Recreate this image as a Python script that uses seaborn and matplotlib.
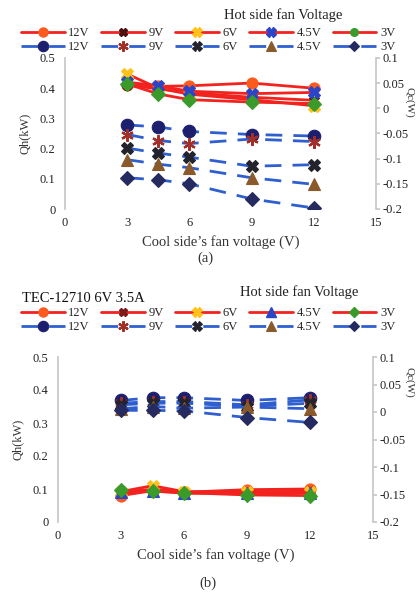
import numpy as np
import pandas as pd
import matplotlib
matplotlib.use("Agg")
import matplotlib.pyplot as plt
from matplotlib.lines import Line2D
import seaborn as sns

sns.set_theme(style="white")
plt.rcParams["font.family"] = ["Liberation Serif", "DejaVu Serif"]

# Cool-side fan voltage (x axis)
cool_v = [3, 4.5, 6, 9, 12]
hot_labels = ["12V", "9V", "6V", "4.5V", "3V"]

# Panel (a): heat rejected on hot side, Qh (kW)
qh_a_12 = [0.412, 0.406, 0.408, 0.417, 0.400]
qh_a_9 = [0.410, 0.398, 0.385, 0.370, 0.360]
qh_a_6 = [0.447, 0.400, 0.380, 0.362, 0.342]
qh_a_45 = [0.420, 0.408, 0.390, 0.382, 0.386]
qh_a_3 = [0.414, 0.381, 0.362, 0.354, 0.349]
# Panel (a): cooling capacity, Qc (W)
qc_a_12 = [-0.033, -0.037, -0.046, -0.052, -0.055]
qc_a_9 = [-0.052, -0.064, -0.070, -0.061, -0.066]
qc_a_6 = [-0.079, -0.089, -0.097, -0.115, -0.112]
qc_a_45 = [-0.102, -0.111, -0.118, -0.138, -0.151]
qc_a_3 = [-0.138, -0.142, -0.150, -0.180, -0.198]

# Panel (b): TEC-12710 6V 3.5A
qh_b_12 = [0.080, 0.095, 0.090, 0.098, 0.100]
qh_b_9 = [0.088, 0.100, 0.090, 0.092, 0.093]
qh_b_6 = [0.092, 0.110, 0.092, 0.090, 0.090]
qh_b_45 = [0.090, 0.095, 0.087, 0.088, 0.088]
qh_b_3 = [0.097, 0.093, 0.089, 0.082, 0.080]
qc_b_12 = [0.021, 0.026, 0.026, 0.021, 0.026]
qc_b_9 = [0.016, 0.019, 0.019, 0.013, 0.022]
qc_b_6 = [0.013, 0.016, 0.016, 0.010, 0.016]
qc_b_45 = [0.006, 0.010, 0.007, 0.009, 0.006]
qc_b_3 = [0.003, 0.003, 0.002, -0.010, -0.019]

RED = "#F2231F"
BLUE = "#2F5FCF"
DASH = (0, (6, 4))
red_style = [  # (marker, colour, size)
    ("o", "#FF5A1E", 8),
    ("X", "#4A1212", 7),
    ("X", "#FFC21A", 8),
    ("X", "#2A45C8", 8),
    ("D", "#3A9A2A", 7),
]
red_style_b = [
    ("o", "#FF5A1E", 8),
    ("X", "#7A1A1A", 7),
    ("X", "#FFC21A", 8),
    ("^", "#2A45C8", 8),
    ("D", "#3A9A2A", 7),
]
blue_style = [
    ("o", "#1C1F6E", 9),
    ((6, 2, 0), "#A33028", 9),
    ("X", "#23232E", 8),
    ("^", "#8A5A2A", 8),
    ("D", "#252A60", 7),
]

FS = 9
W, H = 416, 592


def mew(m):
    return 1.6 if m == (6, 2, 0) else 0.8


def draw_panel(rect, qh_sets, qc_sets, rstyle, legend_y, title_xy,
               rstyle_leg, qc_label_xy):
    ax = fig.add_axes(rect)
    ax2 = ax.twinx()
    for vals, (m, c, s) in zip(qh_sets, rstyle):
        sns.lineplot(x=cool_v, y=vals, ax=ax, color=RED, linewidth=2,
                     marker=m, markersize=s, markerfacecolor=c,
                     markeredgecolor=c, markeredgewidth=0.8, zorder=3)
    for vals, (m, c, s) in zip(qc_sets, blue_style):
        sns.lineplot(x=cool_v, y=vals, ax=ax2, color=BLUE, linewidth=2,
                     linestyle=DASH, marker=m, markersize=s,
                     markerfacecolor=c, markeredgecolor=c,
                     markeredgewidth=mew(m), zorder=3)

    ax.set_xlim(0, 15)
    ax.set_xticks([0, 3, 6, 9, 12, 15])
    ax.set_ylim(0, 0.5)
    ax.set_yticks([0, 0.1, 0.2, 0.3, 0.4, 0.5])
    ax.set_yticklabels(["0", "0.1", "0.2", "0.3", "0.4", "0.5"])
    ax2.set_ylim(-0.2, 0.1)
    ax2.set_yticks([-0.2, -0.15, -0.1, -0.05, 0, 0.05, 0.1])
    ax2.set_yticklabels(["-0.2", "-0.15", "-0.1", "-0.05", "0", "0.05", "0.1"])

    for a in (ax, ax2):
        for side in ("top", "bottom"):
            a.spines[side].set_visible(False)
        a.spines["left"].set_color("#C8C8C8")
        a.spines["right"].set_color("#C8C8C8")
        a.tick_params(labelsize=FS, colors="#222222", length=3,
                      color="#C8C8C8", pad=1.5)
    ax.spines["right"].set_visible(False)
    ax2.spines["left"].set_visible(False)
    ax.tick_params(axis="x", length=0, pad=6)
    ax.tick_params(axis="y", length=0, pad=7)
    ax.set_ylabel("Qh(kW)", fontsize=FS, color="#333333", labelpad=6)
    ax2.set_ylabel("Qc(W)", fontsize=8, color="#333333", rotation=270,
                   va="center", ha="center")
    ax2.yaxis.set_label_coords(*qc_label_xy)
    ax.set_xlabel("Cool side\u2019s fan voltage (V)", fontsize=10.5,
                  color="#333333", labelpad=4)
    ax.grid(False)
    ax2.grid(False)

    handles, labels = [], []
    for i, lab in enumerate(hot_labels):
        m, c, s = rstyle_leg[i]
        handles.append(Line2D([], [], color=RED, lw=2, marker=m,
                              markersize=s - 1.5, markerfacecolor=c,
                              markeredgecolor=c))
        labels.append(lab)
        m, c, s = blue_style[i]
        handles.append(Line2D([], [], color=BLUE, lw=2, linestyle=DASH,
                              marker=m, markersize=s - 1.5, markerfacecolor=c,
                              markeredgecolor=c, markeredgewidth=mew(m)))
        labels.append(lab)
    fig.legend(handles, labels, ncol=5, loc="center", frameon=False,
               bbox_to_anchor=(0.5, legend_y), fontsize=FS,
               handlelength=3.5, handletextpad=0.3, columnspacing=0.9,
               labelspacing=0.15, borderaxespad=0)
    fig.text(title_xy[0], title_xy[1], "Hot side fan Voltage", fontsize=10.5,
             ha="center", va="center", color="#222222")
    return ax


fig = plt.figure(figsize=(W / 100, H / 100), dpi=100)

draw_panel([65 / W, 1 - 209 / H, 311 / W, 151 / H],
           [qh_a_12, qh_a_9, qh_a_6, qh_a_45, qh_a_3],
           [qc_a_12, qc_a_9, qc_a_6, qc_a_45, qc_a_3],
           red_style, 1 - 40 / H, (283 / W, 1 - 15 / H),
           [red_style[0], red_style[1], red_style[2], red_style[3],
            ("o", "#3A9A2A", 7)],
           ((409 - 65) / 311, (209 - 102) / 151))
fig.text(205 / W, 1 - 258 / H, "(a)", fontsize=10.5, ha="center",
         va="center", color="#333333")

draw_panel([58 / W, 1 - 522 / H, 315 / W, 165 / H],
           [qh_b_12, qh_b_9, qh_b_6, qh_b_45, qh_b_3],
           [qc_b_12, qc_b_9, qc_b_6, qc_b_45, qc_b_3],
           red_style_b, 1 - 320 / H, (299 / W, 1 - 292 / H), red_style_b,
           ((409 - 58) / 315, (522 - 382) / 165))
fig.text(22 / W, 1 - 298 / H, "TEC-12710 6V 3.5A", fontsize=10.5,
         ha="left", va="center", color="#111111")
fig.text(208 / W, 1 - 583 / H, "(b)", fontsize=10.5, ha="center",
         va="center", color="#333333")

fig.savefig("out.png", dpi=100, facecolor="white")
